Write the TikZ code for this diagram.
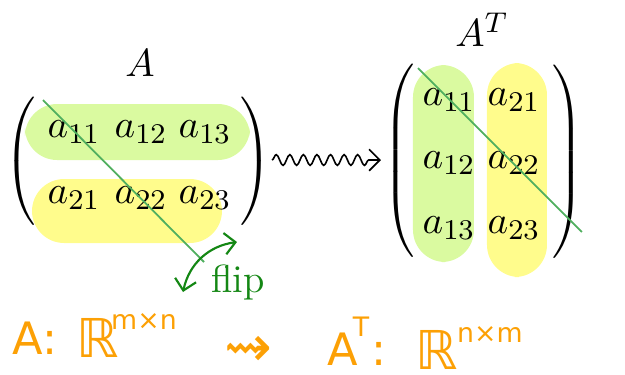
\documentclass[tikz,border=0pt]{standalone}
\usepackage{fontspec}
\newfontfamily\handfont{DejaVu Sans}
\usetikzlibrary{decorations.pathmorphing,arrows.meta}
\definecolor{hlgreen}{RGB}{218,250,160}
\definecolor{hlyellow}{RGB}{255,252,140}
\definecolor{diag}{RGB}{80,175,95}
\definecolor{flipgreen}{RGB}{20,135,20}
\definecolor{ink}{RGB}{252,160,5}
\tikzset{
  entry/.style={inner sep=0pt, anchor=center},
  hl/.style={rounded corners=9pt},
  diagline/.style={draw=diag, line width=0.5pt},
  paren/.style={inner sep=0pt},
  hand/.style={text=ink, inner sep=0pt},
  handbig/.style={hand, font=\handfont\fontsize{12.5}{13}\selectfont},
  handR/.style={hand, font=\handfont\fontsize{15}{15}\selectfont},
  handsup/.style={hand, font=\handfont\fontsize{7.5}{8}\selectfont},
  handarrow/.style={hand, font=\handfont\fontsize{16}{16}\selectfont},
}
\begin{document}
\begin{tikzpicture}[x=0.28pt,y=-0.28pt,font=\fontsize{11}{13}\selectfont]
\useasboundingbox (0,0) rectangle (625,375);

% --- highlighted rows of A
\fill[hlgreen, hl] (25,104) rectangle (250,160);
\fill[hlyellow, hl] (32,179) rectangle (222,243);

% --- highlighted columns of A^T
\fill[hlgreen, hl] (413,65) rectangle (474,262);
\fill[hlyellow, hl] (487,63) rectangle (547,277);

% --- matrix A
\node (lblA) at (140,63) {$A$};
\node[paren] (lpA) at (22,164) {$\left(\rule[-17pt]{0pt}{34pt}\right.$};
\node[paren] (rpA) at (254,164) {$\left.\rule[-17pt]{0pt}{34pt}\right)$};
\node[entry] (a11) at (74,132) {$a_{11}$};
\node[entry] (a12) at (141,132) {$a_{12}$};
\node[entry] (a13) at (205,132) {$a_{13}$};
\node[entry] (a21) at (74,198) {$a_{21}$};
\node[entry] (a22) at (141,198) {$a_{22}$};
\node[entry] (a23) at (205,198) {$a_{23}$};
\coordinate (dA1) at (43,100);
\coordinate (dA2) at (204,262);
\draw[diagline] (dA1) -- (dA2);

% --- flip annotation
\coordinate (fa) at (183,292);
\coordinate (fb) at (237,242);
\draw[flipgreen, line width=0.6pt, {Straight Barb[length=3pt]}-{Straight Barb[length=3pt]}] (fa) to[bend left=35] (fb);
\node[text=flipgreen] (flip) at (238,282) {flip};

% --- squiggly arrow
\coordinate (s1) at (272,160);
\coordinate (s2) at (381,160);
\draw[decorate, decoration={snake, amplitude=1.5pt, segment length=3.8pt, post length=2.5pt}, line width=0.45pt, -{Straight Barb[length=3pt,width=6pt]}] (s1) -- (s2);

% --- matrix A^T
\node (lblAT) at (482,30) {$A^T$};
\node[paren] (lpT) at (401,164) {$\left(\rule[-26pt]{0pt}{52pt}\right.$};
\node[paren] (rpT) at (566,165) {$\left.\rule[-26pt]{0pt}{52pt}\right)$};
\node[entry] (t11) at (449,100) {$a_{11}$};
\node[entry] (t12) at (514,100) {$a_{21}$};
\node[entry] (t21) at (449,163) {$a_{12}$};
\node[entry] (t22) at (514,163) {$a_{22}$};
\node[entry] (t31) at (449,228) {$a_{13}$};
\node[entry] (t32) at (514,228) {$a_{23}$};
\coordinate (dT1) at (418,68);
\coordinate (dT2) at (582,232);
\draw[diagline] (dT1) -- (dT2);

% --- handwritten-style dimension note
\node[handbig] (nA) at (35,338) {A:};
\node[handR] (nR1) at (98,338) {ℝ};
\node[handsup] (nmn) at (144,322) {m×n};
\node[handarrow] (nsq) at (248,351) {⇝};
\node[handbig] (nAT) at (343,349) {A};
\node[handsup] (nT) at (361,327) {T};
\node[handbig] (ncol) at (379,354) {:};
\node[handR] (nR2) at (437,350) {ℝ};
\node[handsup] (nnm) at (490,335) {n×m};
\end{tikzpicture}
\end{document}
